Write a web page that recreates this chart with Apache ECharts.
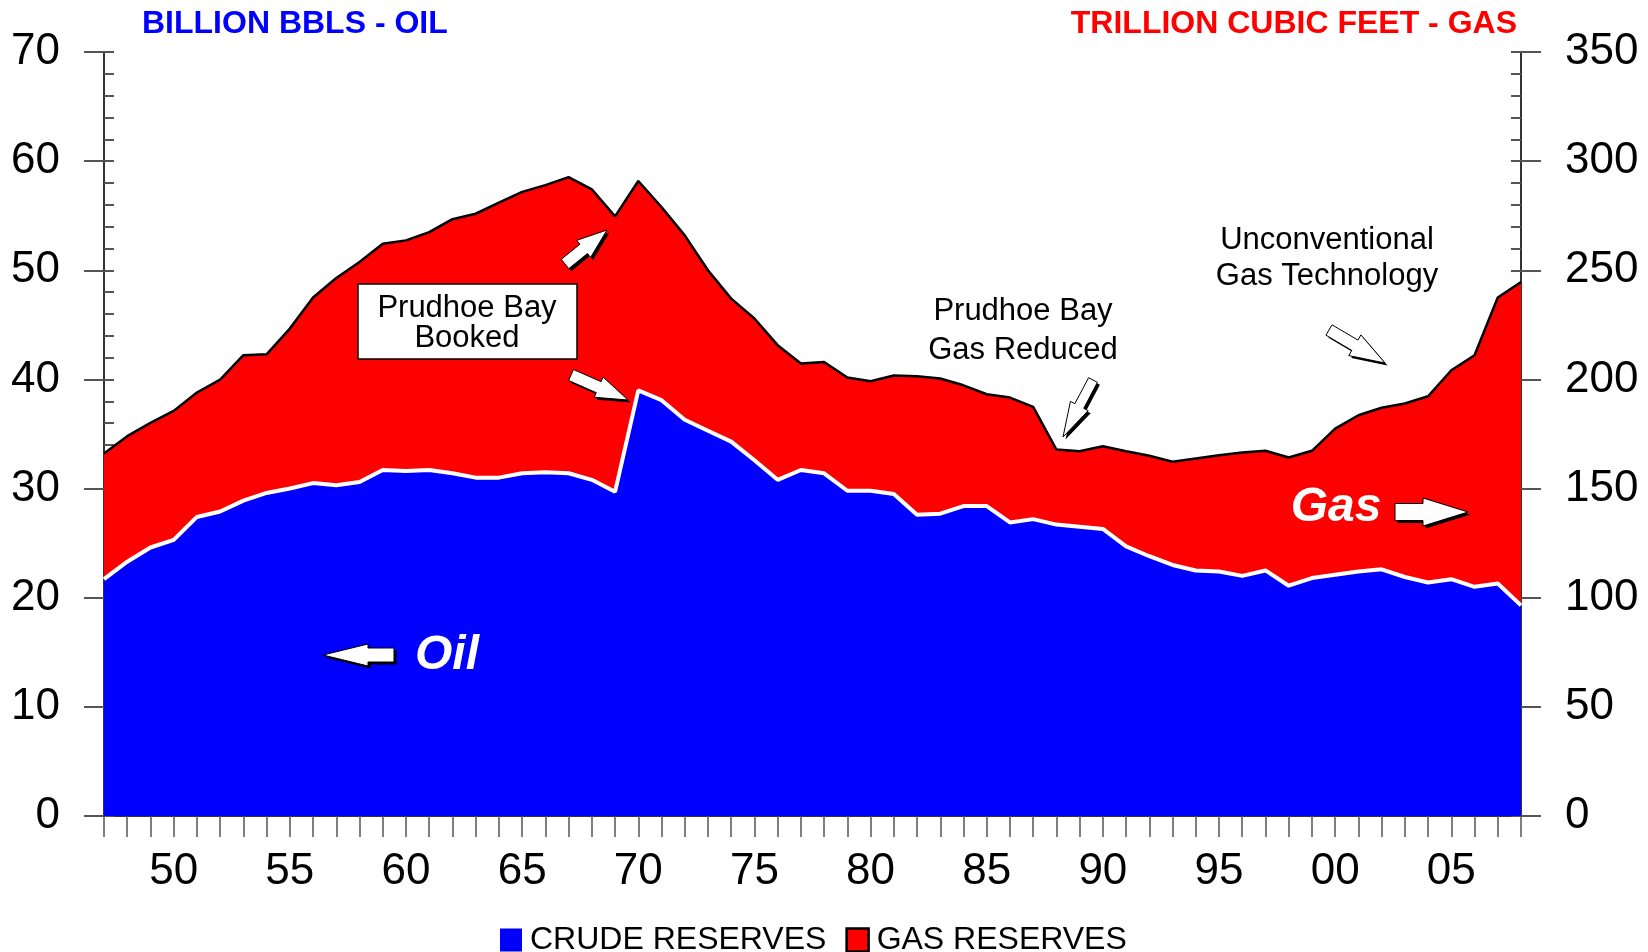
<!DOCTYPE html>
<html>
<head>
<meta charset="utf-8">
<title>Reserves</title>
<script src="https://cdn.jsdelivr.net/npm/echarts@6/dist/echarts.min.js"></script>
<style>
  html, body { margin: 0; padding: 0; background: #fff; }
  #main { width: 1648px; height: 952px; }
</style>
</head>
<body>
<div id="main"></div>
<script>
  const FONT = '"Liberation Sans", Arial, sans-serif'

  const years = []
  for (let y = 1947; y <= 2008; y++) years.push(y)

  // billion bbls, left axis
  const crudeReserves = [
    21.7, 23.3, 24.6, 25.3, 27.4, 27.9, 28.9, 29.6, 30.0, 30.5,
    30.3, 30.6, 31.7, 31.6, 31.7, 31.4, 31.0, 31.0, 31.4, 31.5,
    31.4, 30.8, 29.7, 39.0, 38.1, 36.3, 35.3, 34.3, 32.6, 30.8,
    31.7, 31.4, 29.8, 29.8, 29.5, 27.6, 27.7, 28.4, 28.4, 26.9,
    27.2, 26.7, 26.5, 26.3, 24.7, 23.8, 23.0, 22.5, 22.4, 22.0,
    22.5, 21.1, 21.8, 22.1, 22.4, 22.6, 21.9, 21.4, 21.7, 21.0,
    21.3, 19.3
  ]

  // trillion cubic feet, right axis
  const gasReserves = [
    166.1, 174.0, 180.1, 185.6, 194.0, 199.9, 211.1, 211.5, 223.3, 237.5,
    246.5, 253.8, 262.2, 263.7, 267.5, 273.4, 275.9, 281.0, 285.9, 289.0,
    292.7, 287.1, 274.7, 290.9, 279.0, 266.0, 250.0, 237.0, 227.9, 215.7,
    207.3, 208.0, 200.9, 199.2, 201.8, 201.5, 200.4, 197.3, 193.2, 191.7,
    187.4, 167.9, 167.1, 169.4, 167.1, 165.0, 162.3, 163.8, 165.3, 166.5,
    167.3, 164.2, 167.3, 177.5, 183.6, 187.0, 189.0, 192.3, 204.2, 211.1,
    237.5, 244.6
  ]

  const oilTicks = [0, 10, 20, 30, 40, 50, 60, 70]
  const gasTicks = [0, 50, 100, 150, 200, 250, 300, 350]

  // block arrow polygon from tail to tip
  function arrowPoints (tail, tip, shaft, head, headLen) {
    const dx = tip[0] - tail[0]
    const dy = tip[1] - tail[1]
    const len = Math.sqrt(dx * dx + dy * dy)
    const ux = dx / len
    const uy = dy / len
    const nx = -uy
    const ny = ux
    const neck = [tip[0] - ux * headLen, tip[1] - uy * headLen]
    return [
      [tail[0] + nx * shaft, tail[1] + ny * shaft],
      [neck[0] + nx * shaft, neck[1] + ny * shaft],
      [neck[0] + nx * head, neck[1] + ny * head],
      tip,
      [neck[0] - nx * head, neck[1] - ny * head],
      [neck[0] - nx * shaft, neck[1] - ny * shaft],
      [tail[0] - nx * shaft, tail[1] - ny * shaft]
    ]
  }

  function arrow (tail, tip, shaft, head, headLen) {
    const pts = arrowPoints(tail, tip, shaft, head, headLen)
    const shadow = pts.map(p => [p[0] + 2.5, p[1] + 2.5])
    return [
      { type: 'polygon', shape: { points: shadow }, style: { fill: '#000' }, z: 10 },
      { type: 'polygon', shape: { points: pts }, style: { fill: '#fff', stroke: '#000', lineWidth: 1 }, z: 11 }
    ]
  }

  function label (text, x, y, size, lineHeight, extra) {
    return {
      type: 'text',
      z: 12,
      style: Object.assign({
        text: text,
        x: x,
        y: y,
        fill: '#000',
        fontSize: size,
        fontFamily: FONT,
        lineHeight: lineHeight,
        textAlign: 'center',
        textVerticalAlign: 'middle'
      }, extra || {})
    }
  }

  function getGraphics () {
    let g = []
    g.push(label('BILLION BBLS - OIL', 142, 24, 32, 32, { fill: '#0000ff', fontWeight: 'bold', textAlign: 'left' }))
    g.push(label('TRILLION CUBIC FEET - GAS', 1517, 24, 32, 32, { fill: '#ff0000', fontWeight: 'bold', textAlign: 'right' }))
    g.push({
      type: 'rect',
      z: 11,
      shape: { x: 358, y: 284, width: 219, height: 75 },
      style: { fill: '#fff', stroke: '#000', lineWidth: 1.5 }
    })
    g.push(label('Prudhoe Bay\nBooked', 467, 323, 31, 30))
    g.push(label('Prudhoe Bay\nGas Reduced', 1023, 331, 31, 39))
    g.push(label('Unconventional\nGas Technology', 1327, 258, 31, 36))
    g.push(label('Oil', 447, 656, 48, 48, { fill: '#fff', fontWeight: 'bold', fontStyle: 'italic' }))
    g.push(label('Gas', 1336, 508, 48, 48, { fill: '#fff', fontWeight: 'bold', fontStyle: 'italic' }))
    g = g.concat(arrow([394, 655], [323, 655], 7, 11, 45))
    g = g.concat(arrow([1395, 512], [1468, 512], 8.5, 14, 45))
    g = g.concat(arrow([565, 264], [607, 230], 6, 11, 30))
    g = g.concat(arrow([571, 375], [628, 400], 6, 11, 32))
    g = g.concat(arrow([1093, 380], [1063, 437], 5, 10, 35))
    g = g.concat(arrow([1329, 330], [1385, 363], 6, 12, 35))
    return g
  }

  function valueAxis (pos, ticks, minorStep, majorShow) {
    const max = ticks[ticks.length - 1]
    if (majorShow) {
      return {
        type: 'value',
        position: pos,
        min: ticks[0],
        max: max,
        interval: ticks[1] - ticks[0],
        axisLine: { show: true, lineStyle: { color: '#333', width: 2 } },
        axisTick: { show: true, inside: false, length: 20, lineStyle: { color: '#555', width: 2 } },
        axisLabel: {
          show: true,
          margin: 44,
          color: '#000',
          fontSize: 44,
          fontFamily: FONT
        },
        splitLine: { show: false }
      }
    }
    return {
      type: 'value',
      position: pos,
      min: ticks[0],
      max: max,
      interval: minorStep,
      axisLine: { show: false },
      axisTick: { show: true, inside: true, length: 10, lineStyle: { color: '#555', width: 2 } },
      axisLabel: { show: false },
      splitLine: { show: false }
    }
  }

  function getOptions () {
    return {
      animation: false,
      backgroundColor: '#fff',
      grid: { left: 104, right: 127, top: 52, bottom: 136 },
      legend: {
        left: 500,
        top: 924,
        padding: 0,
        icon: 'rect',
        itemWidth: 22,
        itemHeight: 23,
        itemGap: 19,
        itemStyle: { borderColor: '#000', borderWidth: 2.5 },
        textStyle: { color: '#000', fontSize: 32, fontFamily: FONT, padding: [0, 0, 0, 3] },
        data: [
          { name: 'CRUDE RESERVES', itemStyle: { color: '#0000ff', borderColor: '#0000ff', borderWidth: 0 } },
          { name: 'GAS RESERVES', itemStyle: { color: '#ff0000', borderColor: '#000', borderWidth: 2.5 } }
        ]
      },
      xAxis: [{
        type: 'category',
        boundaryGap: false,
        data: years,
        axisLine: { show: true, lineStyle: { color: '#333', width: 2 } },
        axisTick: { show: true, interval: 0, length: 21, lineStyle: { color: '#555', width: 1.5 } },
        axisLabel: {
          interval: function (i, v) { return Number(v) % 5 === 0 },
          formatter: function (v) { return String(v).slice(2) },
          margin: 34,
          color: '#000',
          fontSize: 44,
          fontFamily: FONT
        },
        splitLine: { show: false }
      }, {
        type: 'category',
        position: 'top',
        boundaryGap: false,
        data: years,
        axisLine: { show: true, lineStyle: { color: '#333', width: 2 } },
        axisTick: { show: false },
        axisLabel: { show: false },
        splitLine: { show: false }
      }],
      yAxis: [
        valueAxis('left', oilTicks, 2, true),
        valueAxis('right', gasTicks, 10, true),
        valueAxis('left', oilTicks, 2, false),
        valueAxis('right', gasTicks, 10, false)
      ],
      series: [{
        name: 'GAS RESERVES',
        type: 'line',
        yAxisIndex: 1,
        data: gasReserves,
        symbol: 'none',
        itemStyle: { color: '#ff0000' },
        lineStyle: { color: '#000', width: 2.5 },
        areaStyle: { color: '#ff0000', opacity: 1 },
        z: 2
      }, {
        name: 'CRUDE RESERVES',
        type: 'line',
        yAxisIndex: 0,
        data: crudeReserves,
        symbol: 'none',
        itemStyle: { color: '#0000ff' },
        lineStyle: { color: '#fff', width: 4 },
        areaStyle: { color: '#0000ff', opacity: 1 },
        z: 3
      }],
      graphic: getGraphics()
    }
  }

  const chart = echarts.init(document.getElementById('main'))
  chart.setOption(getOptions())
  window.addEventListener('resize', function () {
    chart.resize()
  })
</script>
</body>
</html>
